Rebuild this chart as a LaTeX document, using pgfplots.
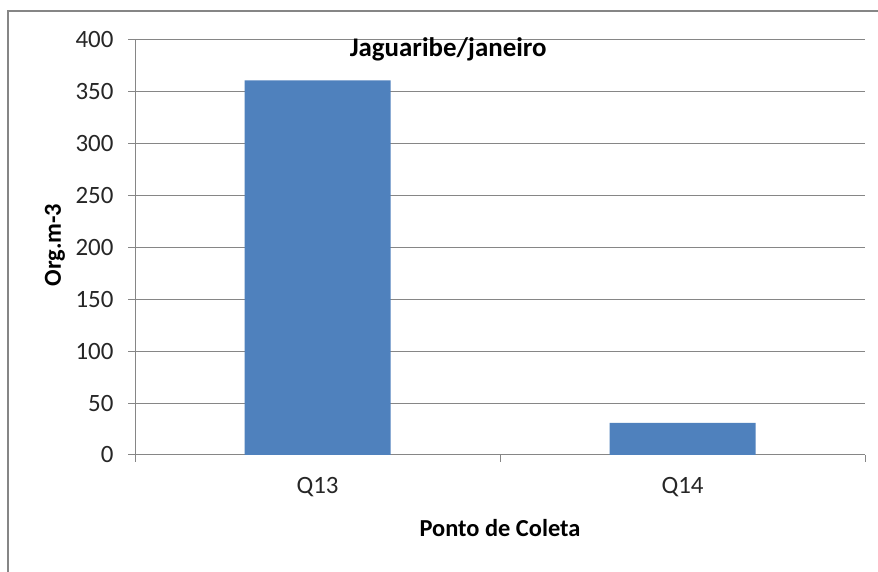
\documentclass[border=0pt]{standalone}
\usepackage{fontspec}
\setmainfont{Carlito}
\usepackage{pgfplots}
\pgfplotsset{compat=1.18}
\definecolor{barblue}{RGB}{79,129,189}
\definecolor{gridgray}{RGB}{134,134,134}
\begin{document}
\begin{tikzpicture}[x=1bp,y=1bp]
\useasboundingbox (0,0) rectangle (878,572);
\fill[white] (0,0) rectangle (878,572);
\draw[gridgray, line width=1.5bp] (8,-5) -- (8,561) -- (890,561);
\begin{axis}[
  at={(135bp,117bp)}, anchor=south west,
  scale only axis, width=730bp, height=415bp,
  xmin=0, xmax=2, ymin=0, ymax=400,
  ytick={0,50,...,400},
  xtick={0,1,2}, xticklabels={},
  extra x ticks={0.5,1.5}, extra x tick labels={Q13,Q14},
  extra x tick style={major tick length=0pt, grid=none},
  axis x line*=bottom, axis y line*=left,
  axis line style={gridgray, line width=1bp},
  tick style={gridgray, line width=1bp},
  major tick length=7bp, tick align=outside,
  ymajorgrids, grid style={gridgray, line width=1bp},
  /pgf/number format/assume math mode=true,
  tick label style={font=\fontsize{25}{28}\selectfont, text=black!85},
  yticklabel style={xshift=-11bp},
  xticklabel style={yshift=-19bp},
  xlabel={Ponto de Coleta}, ylabel={Org.m-3},
  label style={font=\bfseries\fontsize{24.5}{28}\selectfont},
  xlabel style={at={(axis description cs:0.5,-0.176)}, anchor=center},
  ylabel style={at={(axis description cs:-0.1096,0.506)}, anchor=center},
  title={Jaguaribe/janeiro},
  title style={font=\bfseries\fontsize{27}{30}\selectfont, at={(axis description cs:0.429,0.962)}, anchor=center},
]
\addplot[ybar, bar width=146bp, fill=barblue, draw=none] coordinates {(0.5,361) (1.5,31)};
\end{axis}
\end{tikzpicture}
\end{document}
